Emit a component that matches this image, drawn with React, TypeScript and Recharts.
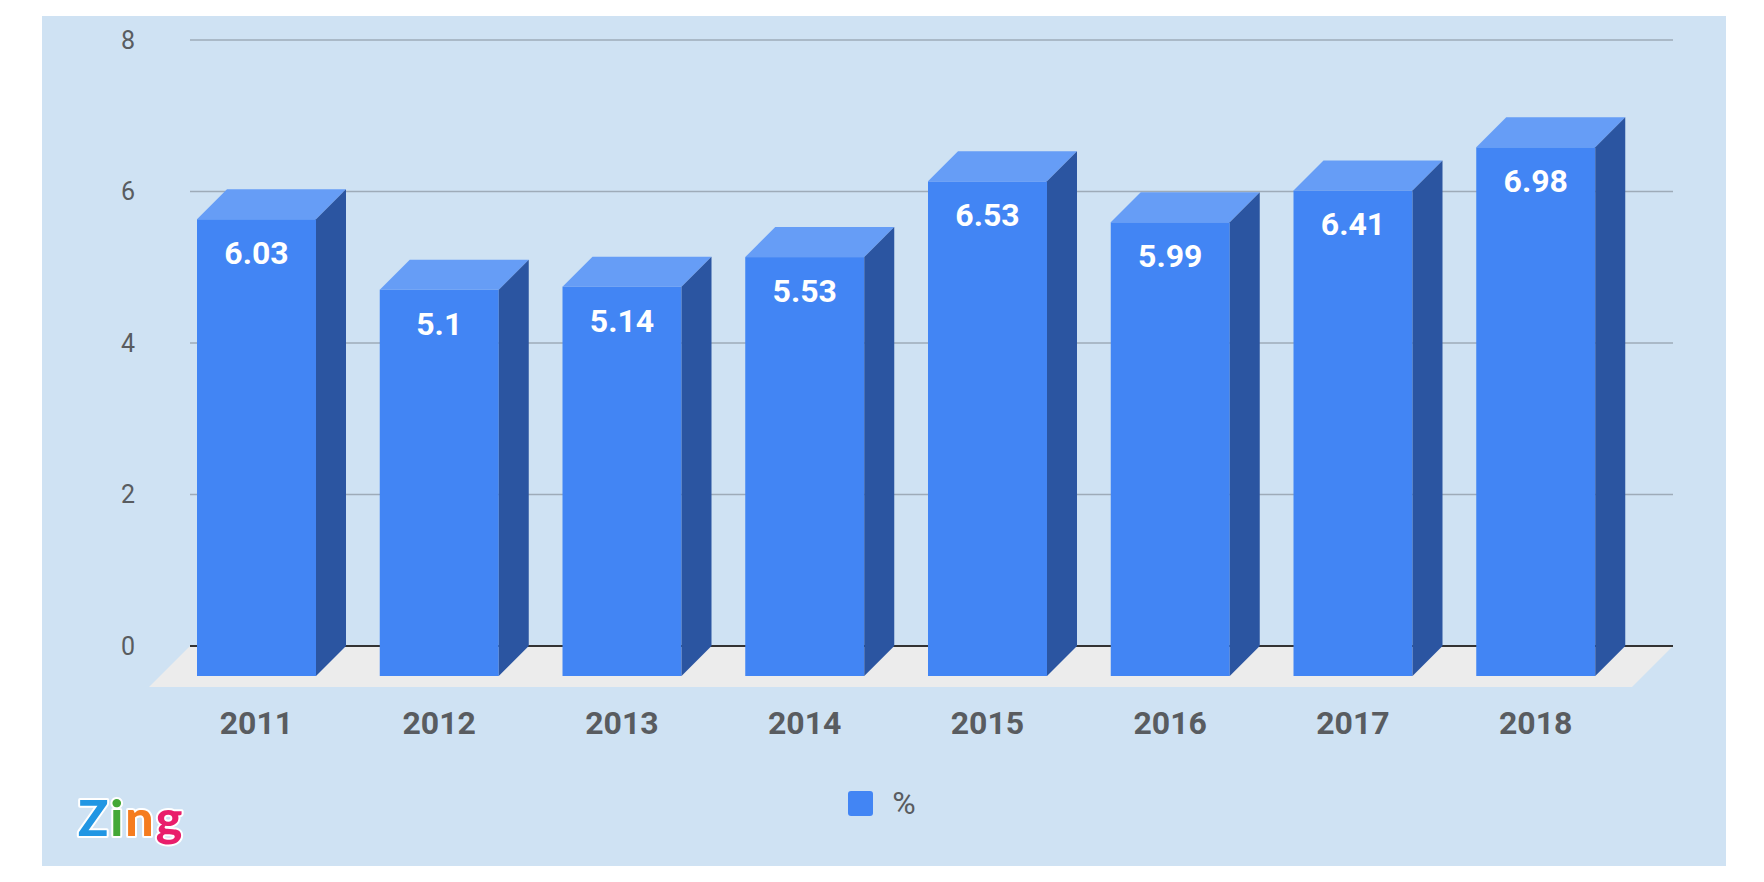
import { BarChart, Bar, XAxis, YAxis, CartesianGrid, LabelList, Legend } from "recharts"

const years = ["2011", "2012", "2013", "2014", "2015", "2016", "2017", "2018"]
const values = [6.03, 5.1, 5.14, 5.53, 6.53, 5.99, 6.41, 6.98]
const yTicks = [0, 2, 4, 6, 8]
const seriesName = "%"

const data = years.map((year, i) => ({ year, value: values[i] }))

const DEPTH = 30
const FRONT = "#4285f4"
const TOP = "#669df6"
const SIDE = "#2b55a1"
const TEXT = "#595c60"

const Bar3D = (props: any) => {
	const { x, y, width, height } = props
	if (!height) return null
	const d = DEPTH
	return (
		<g>
			<rect x={x - d} y={y + d} width={width} height={height} fill={FRONT} />
			<polygon
				points={`${x - d},${y + d} ${x},${y} ${x + width},${y} ${x + width - d},${y + d}`}
				fill={TOP}
			/>
			<polygon
				points={`${x + width - d},${y + d} ${x + width},${y} ${x + width},${y + height} ${x + width - d},${y + height + d}`}
				fill={SIDE}
			/>
		</g>
	)
}

// grid lines; the baseline one also gets the grey floor and a dark stroke
const GridLine = (props: any) => {
	const { x1, y1, x2, y, height } = props
	const isBase = Math.abs(y1 - (y + height)) < 1
	if (!isBase) {
		return <line x1={x1} y1={y1} x2={x2} y2={y1} stroke="#9eabb8" strokeWidth={1.5} />
	}
	const f = 41
	return (
		<g>
			<polygon points={`${x1},${y1} ${x2},${y1} ${x2 - f},${y1 + f} ${x1 - f},${y1 + f}`} fill="#ececec" />
			<line x1={x1} y1={y1} x2={x2} y2={y1} stroke="#333" strokeWidth={2} />
		</g>
	)
}

const YTick = ({ x, y, payload }: any) => (
	<text x={x} y={y} textAnchor="end" dominantBaseline="central" fontSize={25} fill={TEXT} fontFamily="Roboto">
		{payload.value}
	</text>
)

const XTick = ({ x, y, payload }: any) => (
	<text
		x={x - DEPTH}
		y={y}
		textAnchor="middle"
		dominantBaseline="central"
		fontSize={32}
		fontWeight="bold"
		fill={TEXT}
		fontFamily="Roboto"
	>
		{payload.value}
	</text>
)

const ValueLabel = ({ x, y, width, value }: any) => (
	<text
		x={x + width / 2 - DEPTH}
		y={y + DEPTH + 34}
		textAnchor="middle"
		dominantBaseline="central"
		fontSize={32}
		fontWeight="bold"
		fill="#fff"
		fontFamily="Roboto"
	>
		{value}
	</text>
)

const LegendBox = ({ payload }: any) => (
	<div style={{ display: "flex", justifyContent: "center", alignItems: "center" }}>
		{(payload || []).map((p: any) => (
			<div key={p.value} style={{ display: "flex", alignItems: "center", gap: 19 }}>
				<div style={{ width: 25, height: 25, borderRadius: 3, background: FRONT }} />
				<span style={{ fontFamily: "Roboto", fontSize: 32, color: TEXT }}>{p.value}</span>
			</div>
		))}
	</div>
)

const App = () => {
	return (
		<div style={{ position: "absolute", left: 0, top: 0, width: 1764, height: 882, background: "#fff" }}>
			<div style={{ position: "absolute", left: 42, top: 16, width: 1684, height: 850, background: "#cfe2f3" }} />
			<div style={{ position: "absolute", left: 0, top: 0 }}>
				<BarChart
					width={1764}
					height={882}
					data={data}
					margin={{ top: 40, right: 91, bottom: 206, left: 130 }}
				>
					<CartesianGrid vertical={false} horizontal={<GridLine />} />
					<XAxis
						dataKey="year"
						axisLine={false}
						tickLine={false}
						height={30}
						padding={{ left: 5, right: 16 }}
						tickMargin={71}
						tick={<XTick />}
					/>
					<YAxis
						domain={[0, 8]}
						ticks={yTicks}
						width={60}
						axisLine={false}
						tickLine={false}
						tickMargin={49}
						tick={<YTick />}
					/>
					<Legend
						verticalAlign="middle"
						layout="horizontal"
						wrapperStyle={{ top: 784, left: 0, width: 1764 }}
						content={<LegendBox />}
					/>
					<Bar dataKey="value" name={seriesName} fill={FRONT} barSize={119} shape={<Bar3D />} isAnimationActive={false}>
						<LabelList dataKey="value" content={<ValueLabel />} />
					</Bar>
				</BarChart>
			</div>
			<svg style={{ position: "absolute", left: 0, top: 0 }} width={300} height={882}>
				<text
					x={78}
					y={836}
					fontFamily="Lato"
					fontWeight={900}
					fontSize={50}
					letterSpacing={2}
					stroke="#fff"
					strokeWidth={4}
					paintOrder="stroke"
					strokeLinejoin="round"
				>
					<tspan fill="#2196e3">Z</tspan>
					<tspan fill="#43a836">i</tspan>
					<tspan fill="#f57c1f">n</tspan>
					<tspan fill="#e91e6b">g</tspan>
				</text>
			</svg>
		</div>
	)
}

export default App
